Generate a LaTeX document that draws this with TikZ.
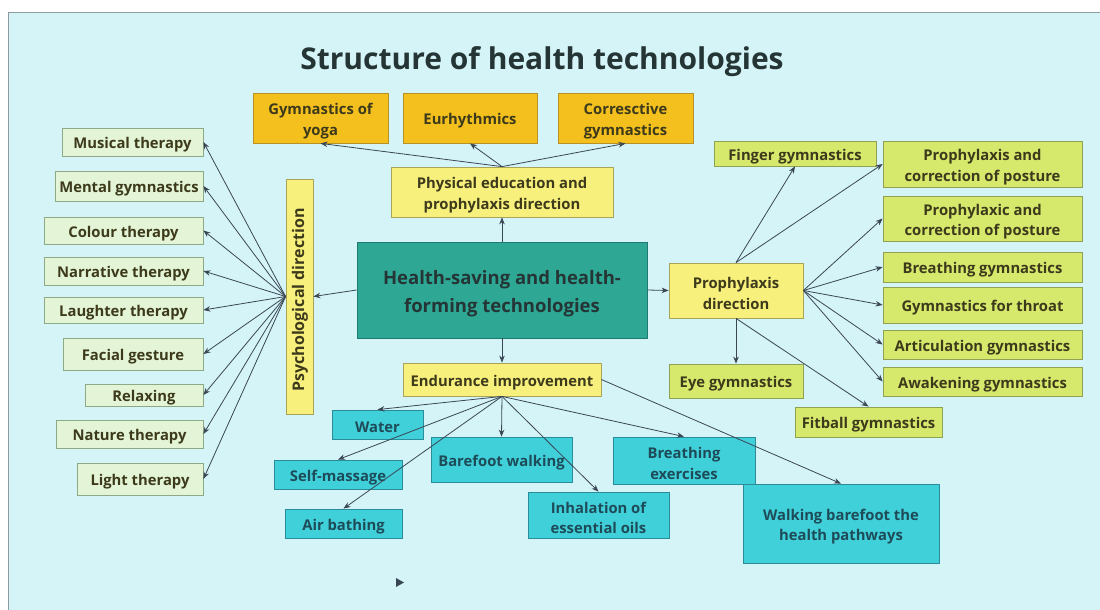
\documentclass[tikz,border=0pt]{standalone}
\usepackage{fontspec}
\setmainfont{Open Sans}
\usetikzlibrary{arrows.meta}
\definecolor{panelbg}{HTML}{D5F4F7}
\definecolor{panelline}{HTML}{8E9C9E}
\definecolor{orangef}{HTML}{F3C01E}
\definecolor{oranged}{HTML}{B89224}
\definecolor{yellowf}{HTML}{F8F07C}
\definecolor{yellowd}{HTML}{A9A458}
\definecolor{greenf}{HTML}{D6E96C}
\definecolor{greend}{HTML}{8FA252}
\definecolor{lightf}{HTML}{E3F5D6}
\definecolor{lightd}{HTML}{8DAA84}
\definecolor{tealf}{HTML}{2EA795}
\definecolor{teald}{HTML}{1F7A70}
\definecolor{cyanf}{HTML}{40D0DA}
\definecolor{cyand}{HTML}{2A8C99}
\definecolor{arrowc}{HTML}{3B4655}
\definecolor{txtolive}{HTML}{3D3A1C}
\definecolor{txtteal}{HTML}{1E4B58}
\definecolor{txtdark}{HTML}{253535}
% box: style, width, height, name, position, text
\newcommand\bx[6]{%
  \node[#1, minimum width=#2, minimum height=#3] (#4) at (#5) {};
  \node[#1, draw=none, fill=none, yshift=-3pt] (#4-t) at (#5) {#6};}
\begin{document}
\begin{tikzpicture}[x=1pt,y=-1pt,
  box/.style={draw, line width=0.8pt, inner sep=0pt, align=center,
    font=\bfseries\fontsize{14.8}{20.5}\selectfont},
  orangebox/.style={box, fill=orangef, draw=oranged, text=txtolive},
  yellowbox/.style={box, fill=yellowf, draw=yellowd, text=txtolive},
  greenbox/.style={box, fill=greenf, draw=greend, text=txtolive},
  lightbox/.style={box, fill=lightf, draw=lightd, text=txtolive},
  cyanbox/.style={box, fill=cyanf, draw=cyand, text=txtteal},
  centralbox/.style={box, fill=tealf, draw=teald, text=txtdark,
    font=\bfseries\fontsize{18.5}{28}\selectfont},
  arr/.style={draw=arrowc, line width=0.8pt, -{Stealth[length=7pt,width=5.5pt]}}
]
\useasboundingbox (0,0) rectangle (1100,610);
\fill[white] (0,0) rectangle (1100,610);
\draw[panelline, line width=1pt, fill=panelbg] (8,13) rectangle (1102,612);

\node[text=txtdark, font=\bfseries\fontsize{30}{36}\selectfont] (title) at (542,62) {Structure of health technologies};

% top orange
\bx{orangebox}{135}{50}{yoga}{320.5,118}{Gymnastics of\\yoga}
\bx{orangebox}{134}{50}{eur}{470,118}{Eurhythmics}
\bx{orangebox}{135}{50}{corr}{625.5,118}{Corresctive\\gymnastics}

% yellow
\bx{yellowbox}{222}{50}{phys}{502,192}{Physical education and\\prophylaxis direction}
\node[yellowbox, minimum width=27, minimum height=235] (psych) at (299.5,296.5) {};
\node[text=txtolive, font=\bfseries\fontsize{16}{20}\selectfont, rotate=90, inner sep=0pt] (psychlabel) at (300,300) {Psychological direction};
\bx{yellowbox}{198}{33}{endur}{502,379.5}{Endurance improvement}
\bx{yellowbox}{134}{55}{proph}{736,290.5}{Prophylaxis\\direction}

% central
\node[centralbox, minimum width=290, minimum height=96] (central) at (502,290) {};
\node[centralbox, draw=none, fill=none, yshift=-4pt] (central-t) at (502,290) {Health-saving and health-\\forming technologies};

% left column
\bx{lightbox}{141}{28}{musical}{132.5,142}{Musical therapy}
\bx{lightbox}{148}{30}{mental}{129,186}{Mental gymnastics}
\bx{lightbox}{159}{27}{colour}{123.5,230.5}{Colour therapy}
\bx{lightbox}{159}{28}{narrative}{123.5,271}{Narrative therapy}
\bx{lightbox}{159}{26}{laughter}{123.5,310}{Laughter therapy}
\bx{lightbox}{140}{32}{facial}{133,354}{Facial gesture}
\bx{lightbox}{118}{22}{relaxing}{144,395}{Relaxing}
\bx{lightbox}{147}{28}{nature}{129.5,434}{Nature therapy}
\bx{lightbox}{126}{32}{light}{140,479}{Light therapy}

% right column
\bx{greenbox}{162}{25}{finger}{795,153.5}{Finger gymnastics}
\bx{greenbox}{199}{46}{ppc1}{982.5,164}{Prophylaxis and\\correction of posture}
\bx{greenbox}{199}{45}{ppc2}{982.5,218.5}{Prophylaxic and\\correction of posture}
\bx{greenbox}{199}{30}{breathg}{982.5,267}{Breathing gymnastics}
\bx{greenbox}{199}{36}{throat}{982.5,305}{Gymnastics for throat}
\bx{greenbox}{199}{29}{artic}{982.5,344.5}{Articulation gymnastics}
\bx{greenbox}{199}{29}{awak}{982.5,381.5}{Awakening gymnastics}
\bx{greenbox}{134}{34}{eye}{736,381}{Eye gymnastics}
\bx{greenbox}{147}{30}{fitball}{868.5,422}{Fitball gymnastics}

% cyan
\bx{cyanbox}{91}{29}{water}{377.5,424.5}{Water}
\bx{cyanbox}{128}{29}{selfm}{338,474.5}{Self-massage}
\bx{cyanbox}{117}{29}{air}{343.5,523.5}{Air bathing}
\bx{cyanbox}{141}{45}{barefoot}{501.5,459.5}{Barefoot walking}
\bx{cyanbox}{141}{46}{inhal}{598.5,515}{Inhalation of\\essential oils}
\bx{cyanbox}{142}{47}{breathex}{684,460.5}{Breathing\\exercises}
\bx{cyanbox}{196}{79}{walkbf}{841,523.5}{Walking barefoot the\\health pathways}

% arrows
\draw[arr] (central.north) -- (phys.south);
\draw[arr] (phys.north) -- (yoga.south);
\draw[arr] (phys.north) -- (eur.south);
\draw[arr] (phys.north) -- (corr.south);

\draw[arr] (central.west) -- (psych.east);
\foreach \t in {musical,mental,colour,narrative,laughter,facial,relaxing,nature,light}
  \draw[arr] (psych.west) -- (\t.east);

\draw[arr] (central.east) -- (proph.west);
\draw[arr] (proph.north) -- (finger.south);
\draw[arr] (proph.north) -- (ppc1.west);
\foreach \t in {ppc2,breathg,throat,artic,awak}
  \draw[arr] (proph.east) -- (\t.west);
\draw[arr] (proph.south) -- (eye.north);
\draw[arr] (proph.south) -- (fitball.north);

\draw[arr] (central.south) -- (endur.north);
\foreach \t in {water,selfm,air,barefoot,inhal,breathex}
  \draw[arr] (endur.south) -- (\t.north);
\draw[arr] (endur.east) -- (walkbf.north);

% stray arrowhead
\fill[arrowc] (396,578) -- (404,582.5) -- (396,587) -- cycle;
\end{tikzpicture}
\end{document}
